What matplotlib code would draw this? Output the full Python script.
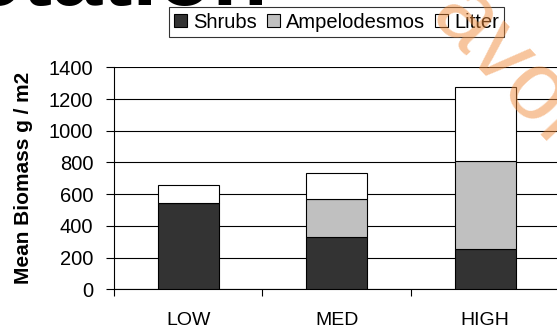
import matplotlib
matplotlib.use('Agg')
import matplotlib.pyplot as plt
import numpy as np

plt.rcParams['font.family'] = ['Liberation Sans', 'DejaVu Sans']

# data
categories = ['LOW', 'MED', 'HIGH']
shrubs = [542, 328, 254]
ampelodesmos = [0, 239, 553]
litter = [114, 168, 470]
series_names = ['Shrubs', 'Ampelodesmos', 'Litter']
yticks = [0, 200, 400, 600, 800, 1000, 1200, 1400]

colors = ['#333333', '#c0c0c0', '#ffffff']

fig = plt.figure(figsize=(5.57, 3.31), dpi=100)
ax = fig.add_axes([114/557, 1-289.3/331, (559.3-114)/557, (289.3-67.3)/331])

x = np.arange(len(categories))
bottom = np.zeros(len(categories))
handles = []
for vals, c, name in zip([shrubs, ampelodesmos, litter], colors, series_names):
    h = ax.bar(x, vals, width=0.41, bottom=bottom, color=c, edgecolor='black',
               linewidth=0.8, label=name, zorder=3)
    bottom += np.array(vals)
    handles.append(h)

ax.set_xlim(-0.5, 2.5)
ax.set_ylim(0, 1400)
ax.set_yticks(yticks)
ax.yaxis.grid(True, color='black', linewidth=0.8, zorder=0)
ax.tick_params(axis='y', labelsize=14.5, length=6, width=0.8, pad=9)

# category labels at centres, small tick marks at the boundaries
ax.set_xticks(x)
ax.set_xticklabels(categories)
ax.tick_params(axis='x', which='major', length=0, labelsize=14, pad=16)
ax.set_xticks([-0.5, 0.5, 1.5, 2.5], minor=True)
ax.tick_params(axis='x', which='minor', length=5, width=0.8, direction='out')

for s in ['top', 'right']:
    ax.spines[s].set_visible(False)
ax.spines['left'].set_linewidth(0.8)
ax.spines['bottom'].set_linewidth(0.8)

ax.set_ylabel('Mean Biomass g / m2', fontsize=15, fontweight='bold')
ax.yaxis.set_label_coords(-0.182, 0.5)

leg = fig.legend(handles=handles, labels=series_names, loc='center',
                 bbox_to_anchor=(336.5/557, 1-22/331), ncol=3, fontsize=14.5,
                 frameon=True, fancybox=False, shadow=False,
                 handlelength=0.65, handleheight=0.65, handletextpad=0.3,
                 columnspacing=0.5, borderpad=0.25, borderaxespad=0)
leg.get_frame().set_edgecolor('black')
leg.get_frame().set_linewidth(0.8)

# cut-off slide title at the top (only the bottom of the letters shows)
fig.text(268/557, 1-5/331, 'Vegetation', ha='right', va='baseline',
         fontsize=65, fontweight='bold', color='black')

# watermark
fig.text(510/557, 1-70/331, 'avor', ha='center', va='center', rotation=-47,
         fontsize=70, color='#F08C3C', alpha=0.5, zorder=10)

fig.savefig('out.png', dpi=100)
